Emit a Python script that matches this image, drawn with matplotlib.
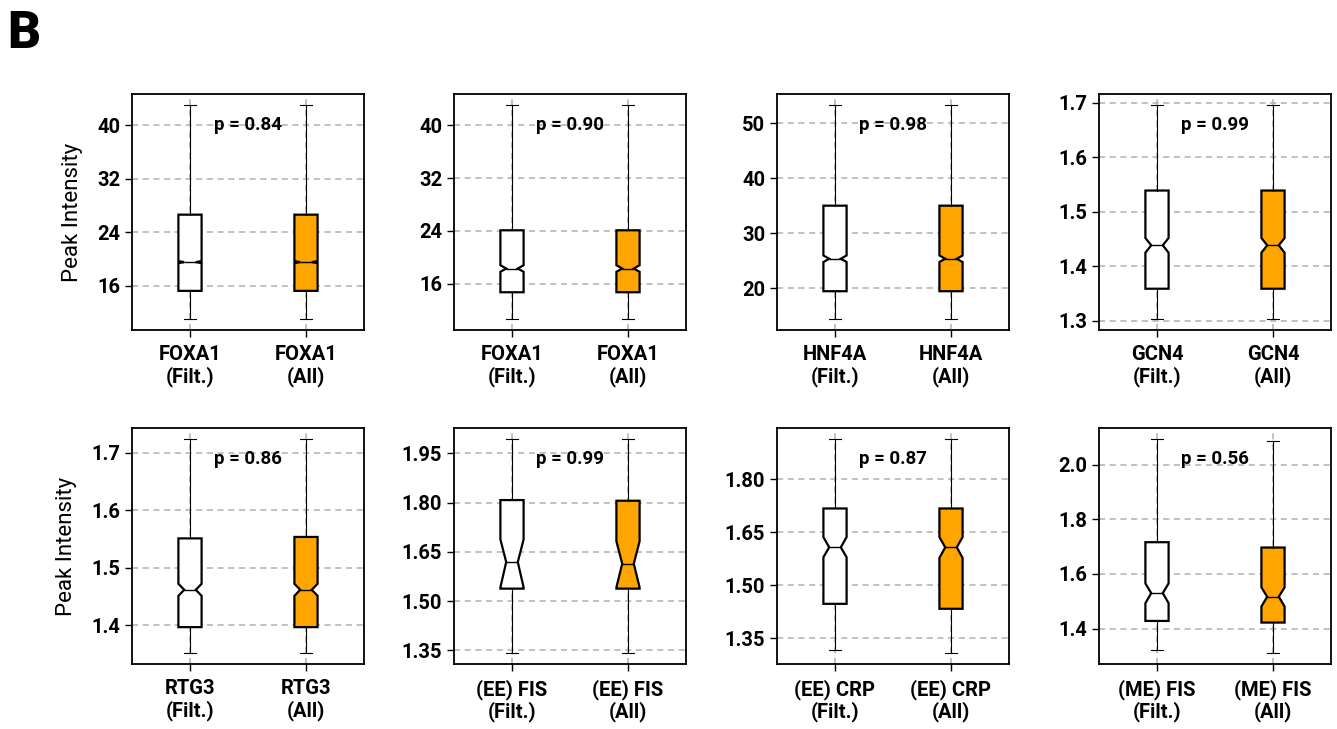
import matplotlib
matplotlib.use("Agg")
import matplotlib.pyplot as plt

plt.rcParams["font.family"] = ["Roboto", "DejaVu Sans"]

# Panel names, p-values and axis ticks
factors = ["FOXA1", "FOXA1", "HNF4A", "GCN4", "RTG3", "(EE) FIS", "(EE) CRP", "(ME) FIS"]
p_values = [0.84, 0.90, 0.98, 0.99, 0.86, 0.99, 0.87, 0.56]
yticks = [
    [16, 24, 32, 40],
    [16, 24, 32, 40],
    [20, 30, 40, 50],
    [1.3, 1.4, 1.5, 1.6, 1.7],
    [1.4, 1.5, 1.6, 1.7],
    [1.35, 1.50, 1.65, 1.80, 1.95],
    [1.35, 1.50, 1.65, 1.80],
    [1.4, 1.6, 1.8, 2.0],
]
ytick_fmt = ["{:.0f}", "{:.0f}", "{:.0f}", "{:.1f}", "{:.1f}", "{:.2f}", "{:.2f}", "{:.1f}"]

# Box statistics: filtered peaks
filt_whislo = [11.0, 10.6, 14.5, 1.303, 1.351, 1.341, 1.316, 1.323]
filt_q1 = [15.25, 14.7, 19.5, 1.359, 1.3965, 1.538, 1.447, 1.428]
filt_med = [19.55, 18.3, 25.4, 1.4386, 1.4615, 1.619, 1.607, 1.530]
filt_q3 = [26.65, 24.1, 35.05, 1.539, 1.551, 1.808, 1.717, 1.7165]
filt_whishi = [43.1, 43.15, 53.3, 1.6963, 1.7245, 1.995, 1.9145, 2.0957]
filt_cilo = [19.4, 17.8, 24.8, 1.425, 1.451, 1.542, 1.579, 1.493]
filt_cihi = [19.7, 18.8, 26.0, 1.452, 1.472, 1.688, 1.636, 1.5655]

# Box statistics: all peaks
all_whislo = [11.0, 10.65, 14.4, 1.303, 1.351, 1.341, 1.307, 1.3095]
all_q1 = [15.25, 14.7, 19.5, 1.359, 1.3965, 1.538, 1.433, 1.422]
all_med = [19.55, 18.3, 25.4, 1.4386, 1.4615, 1.614, 1.607, 1.5165]
all_q3 = [26.65, 24.1, 35.05, 1.539, 1.5535, 1.806, 1.717, 1.697]
all_whishi = [43.1, 43.1, 53.4, 1.6963, 1.7245, 1.995, 1.9145, 2.0884]
all_cilo = [19.4, 17.8, 24.8, 1.425, 1.451, 1.542, 1.577, 1.481]
all_cihi = [19.7, 18.8, 26.0, 1.452, 1.472, 1.6825, 1.636, 1.551]

box_colors = ["white", "orange"]

fig = plt.figure(figsize=(13.37, 7.29), dpi=100)

lefts = [132, 454, 777, 1099]
tops = [94, 428]
W, H = 1337, 729
aw, ah = 232, 236

def stats(i, whislo, q1, med, q3, whishi, cilo, cihi):
    return dict(whislo=whislo[i], q1=q1[i], med=med[i], q3=q3[i],
                whishi=whishi[i], cilo=cilo[i], cihi=cihi[i], fliers=[])

for i in range(8):
    r, c = divmod(i, 4)
    ax = fig.add_axes([lefts[c] / W, 1 - (tops[r] + ah) / H, aw / W, ah / H])
    s = [
        stats(i, filt_whislo, filt_q1, filt_med, filt_q3, filt_whishi, filt_cilo, filt_cihi),
        stats(i, all_whislo, all_q1, all_med, all_q3, all_whishi, all_cilo, all_cihi),
    ]
    bp = ax.bxp(s, positions=[1, 2], widths=0.2, shownotches=True, patch_artist=True,
                showfliers=False,
                boxprops=dict(linewidth=1.6, edgecolor="black"),
                whiskerprops=dict(linewidth=0.8, color="black"),
                capprops=dict(linewidth=0.8, color="black"),
                medianprops=dict(linewidth=1.0, color="black"))
    for patch, col in zip(bp["boxes"], box_colors):
        patch.set_facecolor(col)

    ax.set_xlim(0.5, 2.5)
    ax.set_xticks([1, 2])
    ax.set_xticklabels([f"{factors[i]}\n(Filt.)", f"{factors[i]}\n(All)"],
                       fontsize=14.5, fontweight="bold", linespacing=1.1)
    ax.set_yticks(yticks[i])
    ax.set_yticklabels([ytick_fmt[i].format(v) for v in yticks[i]],
                       fontsize=14.5, fontweight="bold")
    ax.tick_params(axis="both", length=5, width=1.0, color="black")
    ax.tick_params(axis="x", pad=6)
    ax.grid(True, linestyle="--", color="#b0b0b0", linewidth=1.1, dashes=(4, 3))
    ax.set_axisbelow(True)
    for sp in ax.spines.values():
        sp.set_linewidth(1.3)
    ax.text(0.5, 0.87, f"p = {p_values[i]:.2f}", transform=ax.transAxes,
            ha="center", va="center", fontsize=13.5, fontweight="bold")
    if c == 0:
        ax.set_ylabel("Peak Intensity", fontsize=16, labelpad=10)

fig.text(7 / W, 1 - 48 / H, "B", fontsize=37, fontweight="black", ha="left", va="baseline")

fig.savefig("out.png", dpi=100)
